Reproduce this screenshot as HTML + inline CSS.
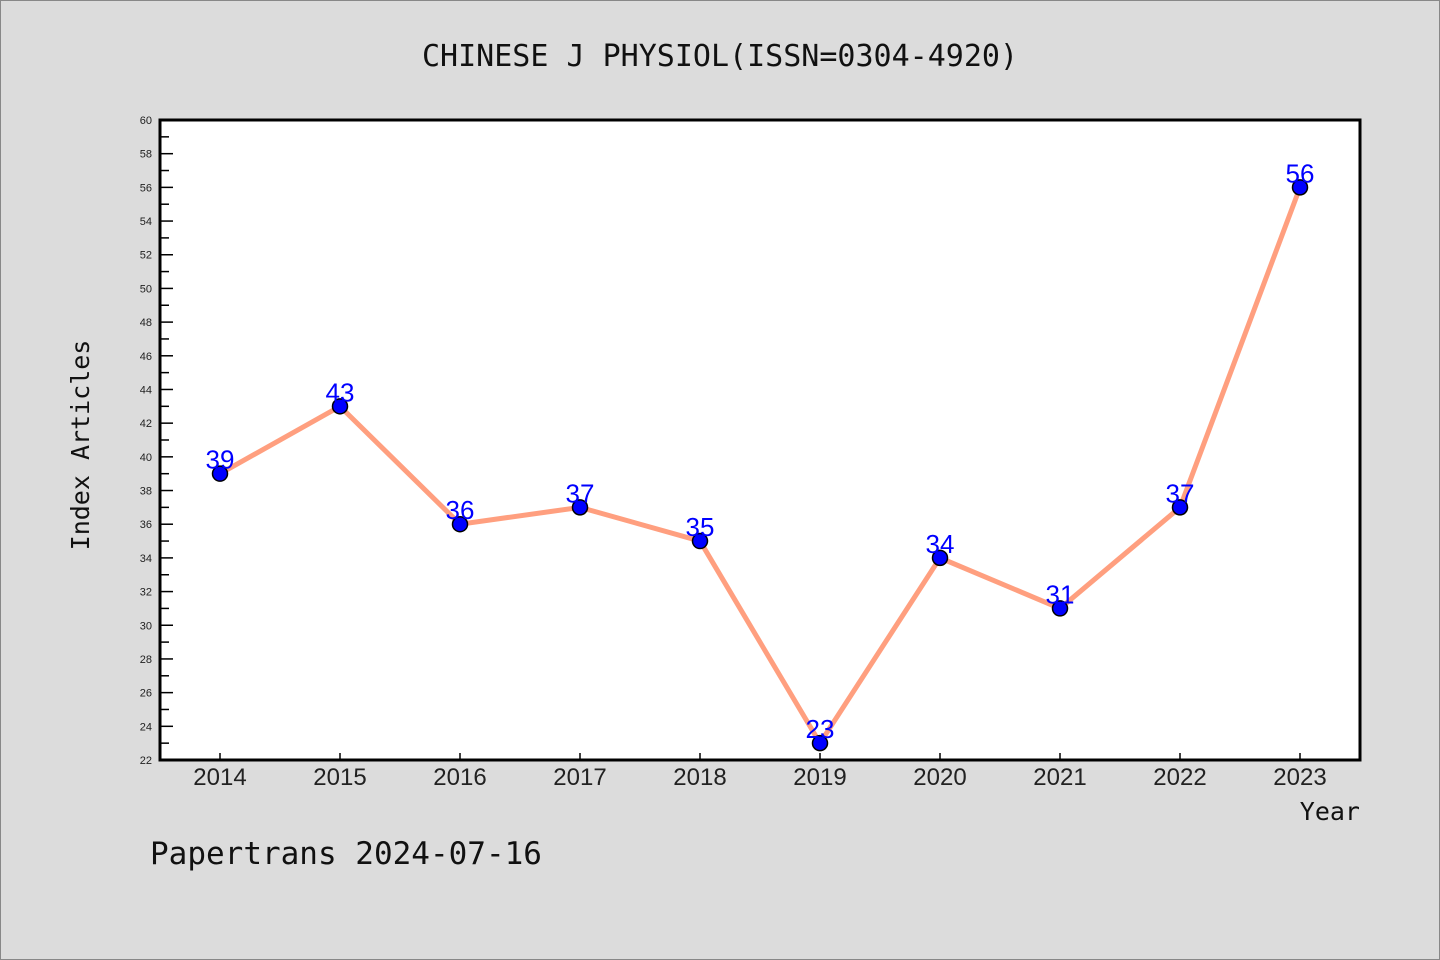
<!DOCTYPE html>
<html><head><meta charset="utf-8"><style>
body{margin:0;background:#dcdcdc;}
svg{display:block;font-family:"Liberation Sans","WenQuanYi Zen Hei",sans-serif;}
</style></head><body>
<svg id="c" width="1440" height="960">
<rect x="0.5" y="0.5" width="1439" height="959" fill="#dcdcdc" stroke="#888"/>
<text x="720" y="66" text-anchor="middle" font-family="'WenQuanYi Zen Hei',monospace" font-size="30" fill="#111">CHINESE J PHYSIOL(ISSN=0304-4920)</text>
<rect x="160" y="120" width="1200" height="640" fill="#fff"/>
<g id="ax"></g>
<g id="marks"></g>
<rect x="160" y="120" width="1200" height="640" fill="none" stroke="#000" stroke-width="3"/>
<text transform="translate(89,445) rotate(-90)" text-anchor="middle" font-family="'WenQuanYi Zen Hei',monospace" font-size="25" fill="#111">Index Articles</text>
<text x="1360" y="820" text-anchor="end" font-family="'WenQuanYi Zen Hei',monospace" font-size="25" fill="#111">Year</text>
<text x="150" y="864" font-family="'WenQuanYi Zen Hei',monospace" font-size="31" fill="#111">Papertrans 2024-07-16</text>
</svg>
<script>
const years=["2014","2015","2016","2017","2018","2019","2020","2021","2022","2023"];
const values=[39,43,36,37,35,23,34,31,37,56];
const yMin=22,yMax=60;
const NS="http://www.w3.org/2000/svg";
const L=160,R=1360,T=120,B=760;
const x=i=>220+i*120;
const y=v=>B-(v-yMin)/(yMax-yMin)*(B-T);
function mk(t,a,p){const e=document.createElementNS(NS,t);for(const k in a)e.setAttribute(k,a[k]);p.appendChild(e);return e;}
const ax=document.getElementById('ax'),mg=document.getElementById('marks');
for(let v=yMin;v<=yMax;v++){
 const major=(v%2===0);
 const t=mk('line',{x1:L,x2:L+(major?13:9),y1:y(v),y2:y(v),stroke:'#000','stroke-width':1.5},ax);
 
 
 if(major){const l=mk('text',{x:152,y:y(v)+4,'text-anchor':'end','font-size':11,fill:'#222'},ax);l.textContent=v;
 
 }
}
years.forEach((yr,i)=>{
 const t=mk('line',{x1:x(i),x2:x(i),y1:B,y2:B-7,stroke:'#000','stroke-width':1.5},ax);
 
 
 const l=mk('text',{x:x(i),y:785,'text-anchor':'middle','font-size':24,fill:'#222'},ax);l.textContent=yr;
 
 
});
const pl=mk('polyline',{points:values.map((v,i)=>x(i)+','+y(v)).join(' '),fill:'none',stroke:'#ff9f7f','stroke-width':5},mg);


values.forEach((v,i)=>{
 const c=mk('circle',{cx:x(i),cy:y(v),r:7.5,fill:'#0000ff',stroke:'#000','stroke-width':1.5},mg);
 
 
 const l=mk('text',{x:x(i),y:y(v)-5,'text-anchor':'middle','font-size':26,fill:'#0000ff'},mg);l.textContent=v;
 
 
});
</script>
</body></html>
